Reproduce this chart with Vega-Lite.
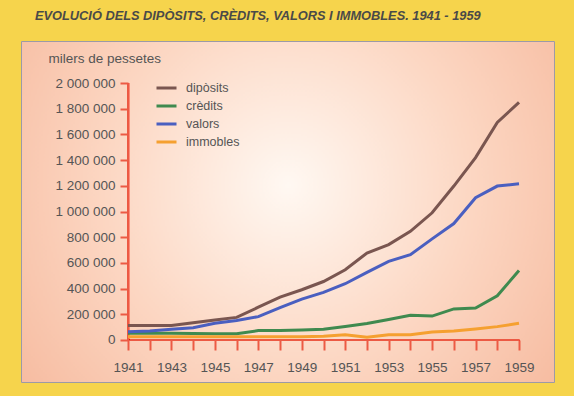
{
  "$schema": "https://vega.github.io/schema/vega-lite/v6.json",
  "width": 533,
  "height": 341,
  "autosize": {"type": "none"},
  "padding": {"left": 21, "top": 41, "right": 20, "bottom": 14},
  "background": "#f6d44c",
  "title": {
    "text": "EVOLUCIÓ DELS DIPÒSITS, CRÈDITS, VALORS I IMMOBLES. 1941 - 1959",
    "anchor": "start",
    "frame": "group",
    "dx": 14,
    "offset": 12,
    "baseline": "middle",
    "font": "Liberation Sans",
    "fontSize": 12.8,
    "fontWeight": "bold",
    "fontStyle": "italic",
    "color": "#4a4a48"
  },
  "config": {
    "view": {
      "fill": {
        "gradient": "radial",
        "x1": 0.5, "y1": 0.45, "r1": 0,
        "x2": 0.5, "y2": 0.45, "r2": 0.75,
        "stops": [
          {"offset": 0, "color": "#fff8f2"},
          {"offset": 0.45, "color": "#fcd7c3"},
          {"offset": 1, "color": "#f4b092"}
        ]
      },
      "stroke": "#9c9aa6",
      "strokeWidth": 1
    },
    "font": "Liberation Sans",
    "axis": {
      "labelFont": "Liberation Sans",
      "labelFontSize": 13.5,
      "labelColor": "#555555",
      "labelOverlap": false,
      "tickColor": "#ec5a44",
      "tickWidth": 2,
      "domain": false,
      "grid": false
    },
    "legend": {
      "orient": "none",
      "legendX": 134,
      "legendY": 39,
      "padding": 0,
      "symbolType": "stroke",
      "symbolStrokeWidth": 3,
      "symbolSize": 400,
      "labelFontSize": 12.5,
      "labelColor": "#555555",
      "labelOffset": 8,
      "clipHeight": 16,
      "rowPadding": 2
    }
  },
  "data": {
    "values": [
      {"year": 1941, "series": "dipòsits", "value": 113000},
      {"year": 1942, "series": "dipòsits", "value": 113000},
      {"year": 1943, "series": "dipòsits", "value": 113000},
      {"year": 1944, "series": "dipòsits", "value": 135000},
      {"year": 1945, "series": "dipòsits", "value": 156000},
      {"year": 1946, "series": "dipòsits", "value": 176000},
      {"year": 1947, "series": "dipòsits", "value": 255000},
      {"year": 1948, "series": "dipòsits", "value": 334000},
      {"year": 1949, "series": "dipòsits", "value": 391000},
      {"year": 1950, "series": "dipòsits", "value": 455000},
      {"year": 1951, "series": "dipòsits", "value": 547000},
      {"year": 1952, "series": "dipòsits", "value": 677000},
      {"year": 1953, "series": "dipòsits", "value": 742000},
      {"year": 1954, "series": "dipòsits", "value": 846000},
      {"year": 1955, "series": "dipòsits", "value": 990000},
      {"year": 1956, "series": "dipòsits", "value": 1198000},
      {"year": 1957, "series": "dipòsits", "value": 1420000},
      {"year": 1958, "series": "dipòsits", "value": 1693000},
      {"year": 1959, "series": "dipòsits", "value": 1849000},
      {"year": 1941, "series": "crèdits", "value": 52000},
      {"year": 1942, "series": "crèdits", "value": 52000},
      {"year": 1943, "series": "crèdits", "value": 52000},
      {"year": 1944, "series": "crèdits", "value": 50000},
      {"year": 1945, "series": "crèdits", "value": 48000},
      {"year": 1946, "series": "crèdits", "value": 48000},
      {"year": 1947, "series": "crèdits", "value": 73000},
      {"year": 1948, "series": "crèdits", "value": 73000},
      {"year": 1949, "series": "crèdits", "value": 78000},
      {"year": 1950, "series": "crèdits", "value": 84000},
      {"year": 1951, "series": "crèdits", "value": 105000},
      {"year": 1952, "series": "crèdits", "value": 128000},
      {"year": 1953, "series": "crèdits", "value": 160000},
      {"year": 1954, "series": "crèdits", "value": 193000},
      {"year": 1955, "series": "crèdits", "value": 186000},
      {"year": 1956, "series": "crèdits", "value": 242000},
      {"year": 1957, "series": "crèdits", "value": 248000},
      {"year": 1958, "series": "crèdits", "value": 344000},
      {"year": 1959, "series": "crèdits", "value": 541000},
      {"year": 1941, "series": "valors", "value": 65000},
      {"year": 1942, "series": "valors", "value": 70000},
      {"year": 1943, "series": "valors", "value": 84000},
      {"year": 1944, "series": "valors", "value": 96000},
      {"year": 1945, "series": "valors", "value": 130000},
      {"year": 1946, "series": "valors", "value": 151000},
      {"year": 1947, "series": "valors", "value": 182000},
      {"year": 1948, "series": "valors", "value": 252000},
      {"year": 1949, "series": "valors", "value": 318000},
      {"year": 1950, "series": "valors", "value": 370000},
      {"year": 1951, "series": "valors", "value": 438000},
      {"year": 1952, "series": "valors", "value": 526000},
      {"year": 1953, "series": "valors", "value": 612000},
      {"year": 1954, "series": "valors", "value": 664000},
      {"year": 1955, "series": "valors", "value": 787000},
      {"year": 1956, "series": "valors", "value": 906000},
      {"year": 1957, "series": "valors", "value": 1107000},
      {"year": 1958, "series": "valors", "value": 1198000},
      {"year": 1959, "series": "valors", "value": 1216000},
      {"year": 1941, "series": "immobles", "value": 26000},
      {"year": 1942, "series": "immobles", "value": 26000},
      {"year": 1943, "series": "immobles", "value": 26000},
      {"year": 1944, "series": "immobles", "value": 25000},
      {"year": 1945, "series": "immobles", "value": 25000},
      {"year": 1946, "series": "immobles", "value": 25000},
      {"year": 1947, "series": "immobles", "value": 25000},
      {"year": 1948, "series": "immobles", "value": 25000},
      {"year": 1949, "series": "immobles", "value": 26000},
      {"year": 1950, "series": "immobles", "value": 30000},
      {"year": 1951, "series": "immobles", "value": 40000},
      {"year": 1952, "series": "immobles", "value": 21000},
      {"year": 1953, "series": "immobles", "value": 41000},
      {"year": 1954, "series": "immobles", "value": 41000},
      {"year": 1955, "series": "immobles", "value": 62000},
      {"year": 1956, "series": "immobles", "value": 70000},
      {"year": 1957, "series": "immobles", "value": 86000},
      {"year": 1958, "series": "immobles", "value": 104000},
      {"year": 1959, "series": "immobles", "value": 130000}
    ]
  },
  "layer": [
    {
      "mark": {"type": "rule", "color": "#ec5a44", "strokeWidth": 2},
      "encoding": {
        "x": {"datum": 1941},
        "x2": {"datum": 1959},
        "y": {"datum": 0}
      }
    },
    {
      "mark": {"type": "rule", "color": "#ec5a44", "strokeWidth": 2},
      "encoding": {
        "x": {"datum": 1941},
        "y": {"datum": 0},
        "y2": {"datum": 2000000}
      }
    },
    {
      "mark": {"type": "line", "strokeWidth": 3},
      "encoding": {
        "x": {
          "field": "year",
          "type": "quantitative",
          "scale": {"domain": [1936.074, 1960.611], "nice": false, "zero": false},
          "axis": {
            "values": [1941, 1942, 1943, 1944, 1945, 1946, 1947, 1948, 1949, 1950, 1951, 1952, 1953, 1954, 1955, 1956, 1957, 1958, 1959],
            "tickCount": 30,
            "labelExpr": "datum.value % 2 == 1 ? datum.value + '' : ''",
            "labelOverlap": false,
            "offset": -42,
            "tickSize": 10,
            "labelPadding": 10,
            "title": null
          }
        },
        "y": {
          "field": "value",
          "type": "quantitative",
          "scale": {"domain": [-327000, 2327000], "nice": false, "zero": false},
          "axis": {
            "values": [0, 200000, 400000, 600000, 800000, 1000000, 1200000, 1400000, 1600000, 1800000, 2000000],
            "tickCount": 30,
            "labelExpr": "replace(format(datum.value, ','), regexp(',', 'g'), ' ')",
            "labelOverlap": false,
            "offset": -107,
            "tickSize": 8,
            "labelPadding": 5,
            "title": "milers de pessetes",
            "titleAngle": 0,
            "titleAlign": "left",
            "titleBaseline": "middle",
            "titleX": -80,
            "titleY": 17,
            "titleFontSize": 13.5,
            "titleFontWeight": "normal",
            "titleColor": "#555555",
            "titleFont": "Liberation Sans"
          }
        },
        "color": {
          "field": "series",
          "type": "nominal",
          "sort": ["dipòsits", "crèdits", "valors", "immobles"],
          "scale": {
            "domain": ["dipòsits", "crèdits", "valors", "immobles"],
            "range": ["#7a5650", "#3f8a4f", "#4a5fc0", "#f5a030"]
          },
          "legend": {"title": null}
        }
      }
    }
  ]
}
